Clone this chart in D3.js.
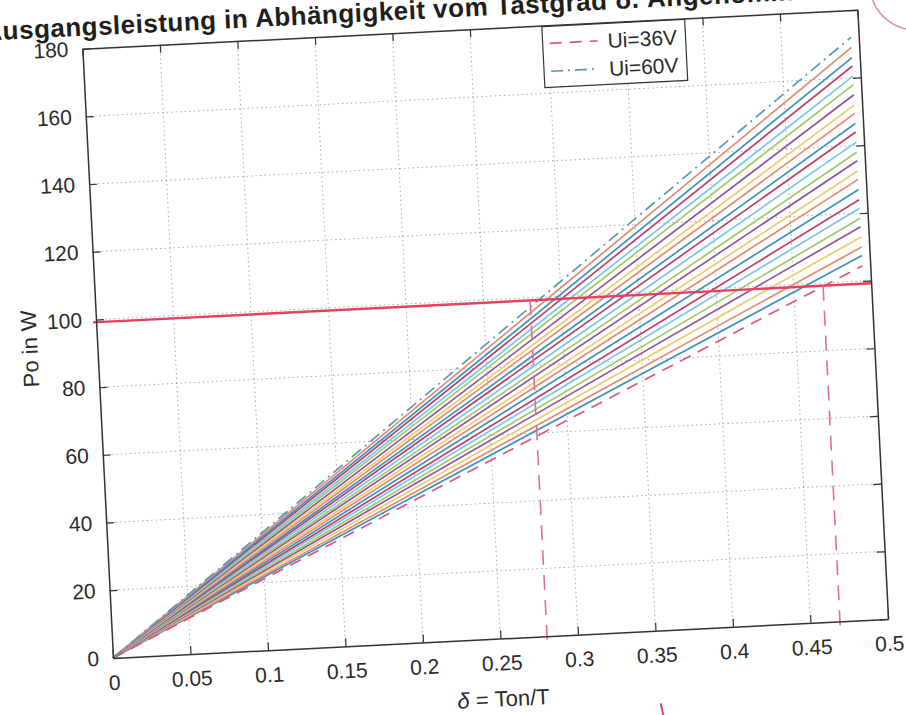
<!DOCTYPE html>
<html lang="de">
<head>
<meta charset="utf-8">
<title>Ausgangsleistung in Abhängigkeit vom Tastgrad</title>
<script src="https://cdnjs.cloudflare.com/ajax/libs/d3/7.8.5/d3.min.js"></script>
<style>
  body { margin: 0; background: #fff; }
  svg { display: block; font-family: "Liberation Sans", Arial, Helvetica, sans-serif; }
</style>
</head>
<body>
<div id="chart"></div>
<script>
// input voltages (one line each) and output power read at the end of each line
var voltages   = [36, 37, 38, 39, 40, 41, 42, 43, 44, 45, 46, 47, 48,
                  49, 50, 51, 52, 53, 54, 55, 56, 57, 58, 59, 60];
var powerAtEnd = [104.5, 107.5, 110, 113, 116, 118.5, 121.5, 124, 127, 130, 132.5, 135.5, 138,
                  141, 144, 146.5, 149.5, 152, 155, 158, 160.5, 163.5, 166, 169, 172];
var deltaEnd = 0.495;

var xTicks = [0, 0.05, 0.1, 0.15, 0.2, 0.25, 0.3, 0.35, 0.4, 0.45, 0.5];
var xTickLabels = ["0", "0.05", "0.1", "0.15", "0.2", "0.25", "0.3", "0.35", "0.4", "0.45", "0.5"];
var yTicks = [0, 20, 40, 60, 80, 100, 120, 140, 160, 180];
var yTickLabels = ["0", "20", "40", "60", "80", "100", "120", "140", "160", "180"];
var legendLabels = ["Ui=36V", "Ui=60V"];

// pen marks on the printout
var targetPower = 99.2;
var markedDeltas = [0.28, 0.469];
var markedBottom = [-1, -2.5];

// page is scanned slightly tilted
var W = 776, H = 610, angle = -2.88;

var x = d3.scaleLinear().domain([0, 0.5]).range([0, W]);
var y = d3.scaleLinear().domain([0, 180]).range([H, 0]);

// MATLAB default colour order, as it looks on the scan
var colors = ["#3a92c2", "#e58a6c", "#efcb72", "#9553a0", "#9fca6a", "#78c6ee", "#c23d68"];

var svg = d3.select("#chart").append("svg")
  .attr("width", 906)
  .attr("height", 715);

var g = svg.append("g")
  .attr("transform", "translate(113,658) rotate(" + angle + ") translate(0," + (-H) + ")");

g.append("rect").attr("width", W).attr("height", H).attr("fill", "#fff");

// grid
g.append("g").selectAll("line")
  .data(xTicks.slice(1, -1)).enter().append("line")
  .attr("x1", function(d) { return x(d); }).attr("x2", function(d) { return x(d); })
  .attr("y1", 0).attr("y2", H)
  .attr("stroke", "#666").attr("stroke-opacity", 0.55)
  .attr("stroke-dasharray", "1.5,3");

g.append("g").selectAll("line")
  .data(yTicks.slice(1, -1)).enter().append("line")
  .attr("x1", 0).attr("x2", W)
  .attr("y1", function(d) { return y(d); }).attr("y2", function(d) { return y(d); })
  .attr("stroke", "#666").attr("stroke-opacity", 0.55)
  .attr("stroke-dasharray", "1.5,3");

var line = d3.line()
  .x(function(d) { return x(d[0]); })
  .y(function(d) { return y(d[1]); });

var series = voltages.map(function(v, i) {
  return { u: v, pts: [[0, 0], [deltaEnd, powerAtEnd[i]]] };
});

// solid lines for 37..59 V
g.append("g").selectAll("path")
  .data(series.slice(1, -1)).enter().append("path")
  .attr("d", function(d) { return line(d.pts); })
  .attr("fill", "none")
  .attr("stroke-width", 1.7)
  .attr("stroke", function(d, i) { return colors[i % colors.length]; });

// 36 V dashed, 60 V dash-dot
var styles = [
  { color: "#e0557e", dash: "12,8" },
  { color: "#5b98b6", dash: "12,5,2,5" }
];
var ends = [series[0], series[series.length - 1]];
g.append("g").selectAll("path")
  .data(ends).enter().append("path")
  .attr("d", function(d) { return line(d.pts); })
  .attr("fill", "none")
  .attr("stroke-width", 1.7)
  .attr("stroke", function(d, i) { return styles[i].color; })
  .attr("stroke-dasharray", function(d, i) { return styles[i].dash; });

// target power line
g.append("path")
  .attr("d", line([[-0.002, targetPower], [0.5, targetPower]]))
  .attr("stroke", "#e6405f").attr("stroke-width", 2.4).attr("fill", "none");

// hand drawn verticals
g.append("g").selectAll("path")
  .data(markedDeltas).enter().append("path")
  .attr("d", function(d, i) { return line([[d, targetPower], [d, markedBottom[i]]]); })
  .attr("fill", "none")
  .attr("stroke", "#e0708f").attr("stroke-width", 1.6)
  .attr("stroke-dasharray", "15,10");

// axes with inward ticks (box on)
function styleAxis(sel) {
  sel.attr("font-size", 21)
    .attr("font-family", "'Liberation Sans', Arial, Helvetica, sans-serif");
  sel.select(".domain").attr("stroke", "#333").attr("stroke-width", 1.5);
  sel.selectAll(".tick line").attr("stroke", "#333").attr("stroke-width", 1.2);
  sel.selectAll(".tick text").attr("fill", "#2b2b2b");
}

g.append("g")
  .attr("transform", "translate(0," + H + ")")
  .call(d3.axisBottom(x).tickValues(xTicks)
    .tickFormat(function(d, i) { return xTickLabels[i]; })
    .tickSizeInner(-8).tickSizeOuter(0).tickPadding(17))
  .call(styleAxis);

g.append("g")
  .call(d3.axisLeft(y).tickValues(yTicks)
    .tickFormat(function(d, i) { return yTickLabels[i]; })
    .tickSizeInner(-8).tickSizeOuter(0).tickPadding(14))
  .call(styleAxis);

g.append("g")
  .call(d3.axisTop(x).tickValues(xTicks).tickFormat("")
    .tickSizeInner(-8).tickSizeOuter(0))
  .call(styleAxis);

g.append("g")
  .attr("transform", "translate(" + W + ",0)")
  .call(d3.axisRight(y).tickValues(yTicks).tickFormat("")
    .tickSizeInner(-8).tickSizeOuter(0))
  .call(styleAxis);

// labels
g.append("text")
  .attr("x", -98).attr("y", -13)
  .attr("font-size", 26).attr("font-weight", "bold")
  .attr("letter-spacing", 0.5)
  .attr("fill", "#1e1e1e")
  .text("Ausgangsleistung in Abhängigkeit vom Tastgrad δ. Angenommen");

var xl = g.append("text")
  .attr("x", x(0.25)).attr("y", H + 68)
  .attr("text-anchor", "middle")
  .attr("font-size", 22).attr("fill", "#2b2b2b");
xl.append("tspan").attr("font-style", "italic").text("δ");
xl.append("tspan").text(" = Ton/T");

g.append("text")
  .attr("transform", "translate(-60," + (H / 2 - 8) + ") rotate(-90)")
  .attr("text-anchor", "middle")
  .attr("font-size", 22).attr("fill", "#2b2b2b")
  .text("Po in W");

// legend
var lg = g.append("g").attr("transform", "translate(460,1)");
lg.append("rect")
  .attr("width", 143).attr("height", 61)
  .attr("fill", "#fff").attr("stroke", "#333").attr("stroke-width", 1.2);

var rows = lg.selectAll("g.row")
  .data(legendLabels).enter().append("g")
  .attr("class", "row")
  .attr("transform", function(d, i) { return "translate(0," + (17 + i * 28) + ")"; });

rows.append("line")
  .attr("x1", 7).attr("x2", 55)
  .attr("stroke-width", 1.7)
  .attr("stroke", function(d, i) { return styles[i].color; })
  .attr("stroke-dasharray", function(d, i) { return styles[i].dash; });

rows.append("text")
  .attr("x", 65).attr("dy", "0.36em")
  .attr("font-size", 21).attr("fill", "#2b2b2b")
  .text(function(d) { return d; });

// pen circle in the corner and small stroke below the axis
g.append("circle")
  .attr("cx", x(0.538)).attr("cy", y(186.5)).attr("r", 45)
  .attr("fill", "none").attr("stroke", "#d893b0").attr("stroke-width", 1.6);

g.append("path")
  .attr("d", line([[0.351, -21.5], [0.353, -27]]))
  .attr("stroke", "#e04060").attr("stroke-width", 2).attr("fill", "none");
</script>
</body>
</html>
